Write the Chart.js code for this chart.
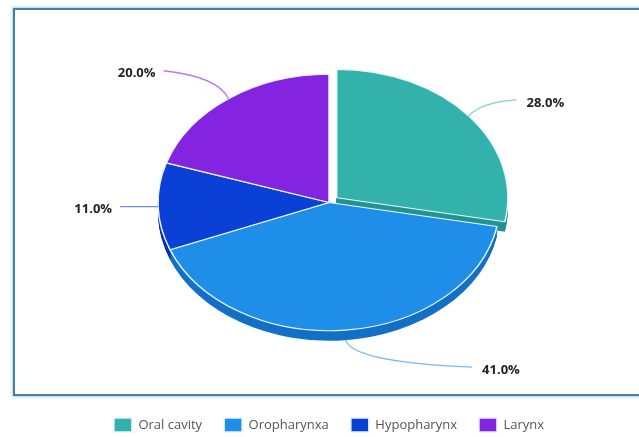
<!DOCTYPE html>
<html lang="en">
<head>
  <meta charset="UTF-8">
  <title>Tumour sites</title>
  <script src="https://cdn.jsdelivr.net/npm/chart.js"></script>
  <style>
    html, body {
      margin: 0;
      padding: 0;
      background: #fff;
      overflow: hidden;
    }
    .frame {
      position: absolute;
      left: 13px;
      top: 8px;
      width: 700px;
      height: 384px;
      border: 2px solid #4b7f9c;
      box-shadow: 0 0 2px 1px #9fd8f2;
    }
    .wrap {
      position: absolute;
      left: 0;
      top: 0;
      width: 639px;
      height: 437px;
    }
  </style>
</head>
<body>

<div class="frame"></div>
<div class="wrap">
  <canvas id="pie" width="639" height="437"></canvas>
</div>

<script>
const sites = ['Oral cavity', 'Oropharynxa', 'Hypopharynx', 'Larynx'];
const shares = [28.0, 41.0, 11.0, 20.0];
const colours = ['#33b2ac', '#1e8ee8', '#0a40d6', '#8423e0'];
const sideColours = ['#23948f', '#1370c6', '#0731a8', '#6519b2'];
const explode = [40, 0, 0, 0];   // chart.js moves a slice by offset/4

const squash = 0.75;   // ellipse look
const depth = 10;      // thickness of the pie
// where each label sits relative to its slice, and the bend of the connector
const labelPlace = [
  { dx: 48, dy: -16, cx: 14, cy: -14, align: 'left' },
  { dx: 127, dy: 37, cx: 3, cy: 32, align: 'left', down: 8 },
  { dx: -38, dy: 0, cx: -18, cy: 0, align: 'right' },
  { dx: -65, dy: -28, cx: -10, cy: -22, align: 'right' }
];

function ellipseAt(arc, a, r) {
  const off = (arc.options.offset || 0) / 4;
  return {
    x: arc.x + Math.cos(a) * (r + off),
    y: arc.y + Math.sin(a) * (r + off) * squash
  };
}

const pie3d = {
  id: 'pie3d',
  beforeDatasetsDraw(chart) {
    const ctx = chart.ctx;
    const arcs = chart.getDatasetMeta(0).data;
    const cx = arcs[0].x, cy = arcs[0].y;
    for (let d = depth; d >= 1; d--) {
      ctx.save();
      ctx.translate(0, d);
      ctx.translate(cx, cy);
      ctx.scale(1, squash);
      ctx.translate(-cx, -cy);
      arcs.forEach((arc, i) => {
        const fake = Object.create(arc);
        fake.options = Object.assign({}, arc.options, {
          backgroundColor: sideColours[i],
          borderColor: sideColours[i],
          borderWidth: 0
        });
        fake.draw(ctx);
      });
      ctx.restore();
    }
    ctx.save();
    ctx.translate(cx, cy);
    ctx.scale(1, squash);
    ctx.translate(-cx, -cy);
  },
  afterDatasetsDraw(chart) {
    const ctx = chart.ctx;
    ctx.restore();
    const arcs = chart.getDatasetMeta(0).data;
    ctx.save();
    ctx.font = 'bold 13px "Open Sans", sans-serif';
    ctx.fillStyle = '#222';
    ctx.textBaseline = 'middle';
    arcs.forEach((arc, i) => {
      const p = labelPlace[i];
      const mid = (arc.startAngle + arc.endAngle) / 2;
      const a = ellipseAt(arc, mid, arc.outerRadius);
      const start = { x: a.x, y: a.y + (p.down || 0) };
      const end = { x: a.x + p.dx, y: a.y + p.dy };
      ctx.beginPath();
      ctx.strokeStyle = colours[i];
      ctx.globalAlpha = 0.6;
      ctx.lineWidth = 1.3;
      ctx.moveTo(start.x, start.y);
      ctx.quadraticCurveTo(a.x + p.cx, a.y + p.cy, end.x, end.y);
      ctx.stroke();
      ctx.globalAlpha = 1;
      ctx.textAlign = p.align;
      const tx = p.align === 'left' ? end.x + 10 : end.x - 8;
      ctx.fillText(shares[i].toFixed(1) + '%', tx, end.y + 3);
    });
    ctx.restore();
  }
};

new Chart(document.getElementById('pie'), {
  type: 'pie',
  data: {
    labels: sites,
    datasets: [{
      data: shares,
      backgroundColor: colours,
      borderColor: '#e8f4ff',
      borderWidth: 1.5,
      offset: explode
    }]
  },
  options: {
    responsive: false,
    animation: false,
    radius: 171,
    layout: { padding: { left: 19, right: 0, top: 9, bottom: 0 } },
    plugins: {
      tooltip: { enabled: false },
      legend: {
        position: 'bottom',
        maxHeight: 41,
        labels: {
          boxWidth: 18,
          boxHeight: 14,
          padding: 22,
          color: '#555',
          font: { family: '"Open Sans", sans-serif', size: 13 }
        }
      }
    }
  },
  plugins: [pie3d]
});
</script>

</body>
</html>
